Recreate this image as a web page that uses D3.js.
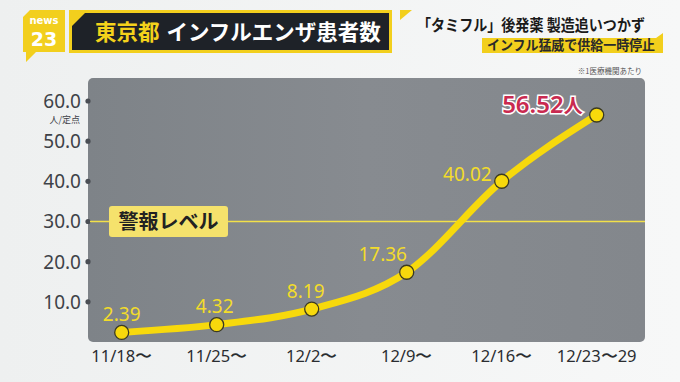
<!DOCTYPE html>
<html>
<head>
<meta charset="utf-8">
<script src="https://cdn.jsdelivr.net/npm/d3@7"></script>
<style>
  html, body { margin: 0; padding: 0; background: #f3f4f4; }
  svg { display: block; }
</style>
</head>
<body>
<svg id="chart" width="680" height="382"></svg>
<script>
(function() {
  // data
  var weeks = ["11/18〜", "11/25〜", "12/2〜", "12/9〜", "12/16〜", "12/23〜29"];
  var patients = [2.39, 4.32, 8.19, 17.36, 40.02, 56.52];
  var yTicks = [10, 20, 30, 40, 50, 60];
  var alertLevel = 30;
  // label placement per point: [dx, dy, anchor]
  var labelPos = [[0, -11, "middle"], [-2, -12, "middle"], [-6, -11, "middle"], [-24, -11, "middle"], [-10, 0, "end"], [-14, -2, "end"]];

  var svg = d3.select("#chart"),
    jp = "'Noto Sans CJK JP', 'Noto Sans', sans-serif",
    num = "'Noto Sans', 'Open Sans', sans-serif";

  var defs = svg.append("defs");
  var bg = defs.append("linearGradient").attr("id", "bg").attr("x1", 0).attr("x2", 1);
  bg.append("stop").attr("offset", 0).attr("stop-color", "#eef0f0");
  bg.append("stop").attr("offset", 1).attr("stop-color", "#f7f8f8");
  var pg = defs.append("linearGradient").attr("id", "panel").attr("x1", 0).attr("x2", 1);
  pg.append("stop").attr("offset", 0).attr("stop-color", "#7e8388");
  pg.append("stop").attr("offset", 0.5).attr("stop-color", "#878b90");
  pg.append("stop").attr("offset", 1).attr("stop-color", "#83878c");

  svg.append("rect").attr("width", 680).attr("height", 382).attr("fill", "url(#bg)");

  // ---- header ----
  svg.append("path")
      .attr("d", "M30,10 L65,10 L65,52 L36,52 L26,62 L26,52 L23,52 L23,17 Z")
      .attr("fill", "#f2cf1d");
  svg.append("text").attr("x", 44).attr("y", 24).attr("text-anchor", "middle")
      .attr("font-family", "Verdana, 'DejaVu Sans', sans-serif").attr("font-size", 10)
      .attr("font-weight", "bold").attr("fill", "#fff").text("news");
  svg.append("text").attr("x", 44).attr("y", 46).attr("text-anchor", "middle")
      .attr("font-family", "Verdana, 'DejaVu Sans', sans-serif").attr("font-size", 19)
      .attr("font-weight", "bold").attr("fill", "#fff").text("23");

  svg.append("path")
      .attr("d", "M69,10 L392,10 L392,53 L69,53 Z")
      .attr("fill", "#f2cf1d");
  svg.append("path")
      .attr("d", "M85,13 L389,13 L389,50 L72,50 L72,26 Z")
      .attr("fill", "#1e2228");
  svg.append("text").attr("x", 95).attr("y", 39.5)
      .attr("font-family", jp).attr("font-size", 21.5).attr("font-weight", "bold")
      .call(function(t) {
        t.append("tspan").attr("fill", "#f4d21b").text("東京都");
        t.append("tspan").attr("fill", "#fff").attr("dx", 7).text("インフルエンザ患者数");
      });

  svg.append("path").attr("d", "M400,10 L412,10 L400,20 Z").attr("fill", "#f2cf1d");
  svg.append("text").attr("x", 417).attr("y", 31)
      .attr("textLength", 228).attr("lengthAdjust", "spacingAndGlyphs")
      .attr("font-family", jp).attr("font-size", 15.5).attr("font-weight", "bold")
      .attr("fill", "#1a1a1a").text("「タミフル」後発薬 製造追いつかず");
  svg.append("path").attr("d", "M482,38 L656,38 L663,33 L663,53 L482,53 Z").attr("fill", "#f2cf1d");
  svg.append("text").attr("x", 487).attr("y", 50)
      .attr("textLength", 168).attr("lengthAdjust", "spacingAndGlyphs")
      .attr("font-family", jp).attr("font-size", 13.5).attr("font-weight", "bold")
      .attr("fill", "#2a2a2a").text("インフル猛威で供給一時停止");
  svg.append("text").attr("x", 642).attr("y", 74).attr("text-anchor", "end")
      .attr("font-family", jp).attr("font-size", 7.5).attr("fill", "#555").text("※1医療機関あたり");

  // ---- chart ----
  var x = d3.scalePoint()
      .domain(weeks)
      .range([121.7, 596.7]);

  var y = d3.scaleLinear()
      .domain([0, 60])
      .range([342, 101]);

  svg.append("rect")
      .attr("x", 88).attr("y", 78).attr("width", 557).attr("height", 264)
      .attr("rx", 5).attr("fill", "url(#panel)");

  // y axis: dots + labels
  var ya = svg.append("g");
  ya.selectAll("circle").data(yTicks).enter().append("circle")
      .attr("cx", 88).attr("cy", function(d) { return y(d); })
      .attr("r", 2.6).attr("fill", "#4a4e54");
  ya.selectAll("text").data(yTicks).enter().append("text")
      .attr("x", 81).attr("y", function(d) { return y(d); }).attr("dy", "0.36em")
      .attr("text-anchor", "end").attr("font-family", num).attr("font-size", 19)
      .attr("fill", "#3e4248").text(function(d) { return d3.format(".1f")(d); });
  svg.append("text").attr("x", 80).attr("y", 123).attr("text-anchor", "end")
      .attr("font-family", jp).attr("font-size", 9).attr("fill", "#3e4248").text("人/定点");

  // alert level
  svg.append("line")
      .attr("x1", 90).attr("x2", 645)
      .attr("y1", y(alertLevel)).attr("y2", y(alertLevel))
      .attr("stroke", "#f2e04a").attr("stroke-width", 1.4);
  svg.append("rect").attr("x", 109).attr("y", 206).attr("width", 119).attr("height", 31)
      .attr("rx", 3).attr("fill", "#f5e26c");
  svg.append("text").attr("x", 168.5).attr("y", 229).attr("text-anchor", "middle")
      .attr("font-family", jp).attr("font-size", 20).attr("font-weight", "bold")
      .attr("fill", "#222").text("警報レベル");

  // x labels
  svg.append("g").selectAll("text").data(weeks).enter().append("text")
      .attr("x", function(d) { return x(d); }).attr("y", 362)
      .attr("text-anchor", "middle").attr("font-family", num).attr("font-size", 16.5)
      .attr("fill", "#2a2d31").text(function(d) { return d; });

  // line
  var pts = weeks.map(function(w, i) { return [x(w), y(patients[i])]; });
  svg.append("path")
      .datum(pts)
      .attr("d", d3.line().curve(d3.curveMonotoneX))
      .attr("fill", "none").attr("stroke", "#f7d90c").attr("stroke-width", 7)
      .attr("stroke-linecap", "round");

  svg.append("g").selectAll("circle").data(pts).enter().append("circle")
      .attr("cx", function(d) { return d[0]; }).attr("cy", function(d) { return d[1]; })
      .attr("r", 7).attr("fill", "#f7d90c").attr("stroke", "#3b3a22").attr("stroke-width", 1.3);

  // value labels
  svg.append("g").selectAll("text").data(patients).enter().append("text")
      .filter(function(d, i) { return i < patients.length - 1; })
      .attr("x", function(d, i) { return pts[i][0] + labelPos[i][0]; })
      .attr("y", function(d, i) { return pts[i][1] + labelPos[i][1]; })
      .attr("text-anchor", function(d, i) { return labelPos[i][2]; })
      .attr("font-family", num).attr("font-size", 19)
      .attr("fill", "#f3dc2a").text(function(d) { return d3.format(".2f")(d); });

  var last = patients.length - 1;
  svg.append("text")
      .attr("x", pts[last][0] + labelPos[last][0]).attr("y", pts[last][1] + labelPos[last][1])
      .attr("text-anchor", "end").attr("font-family", num).attr("font-size", 24)
      .attr("font-weight", "600").attr("fill", "#c92a50")
      .attr("stroke", "#fff").attr("stroke-width", 3).attr("paint-order", "stroke")
      .call(function(t) {
        t.append("tspan").text(d3.format(".2f")(patients[last]));
        t.append("tspan").attr("font-family", jp).attr("font-size", 19).text("人");
      });
})();
</script>
</body>
</html>
